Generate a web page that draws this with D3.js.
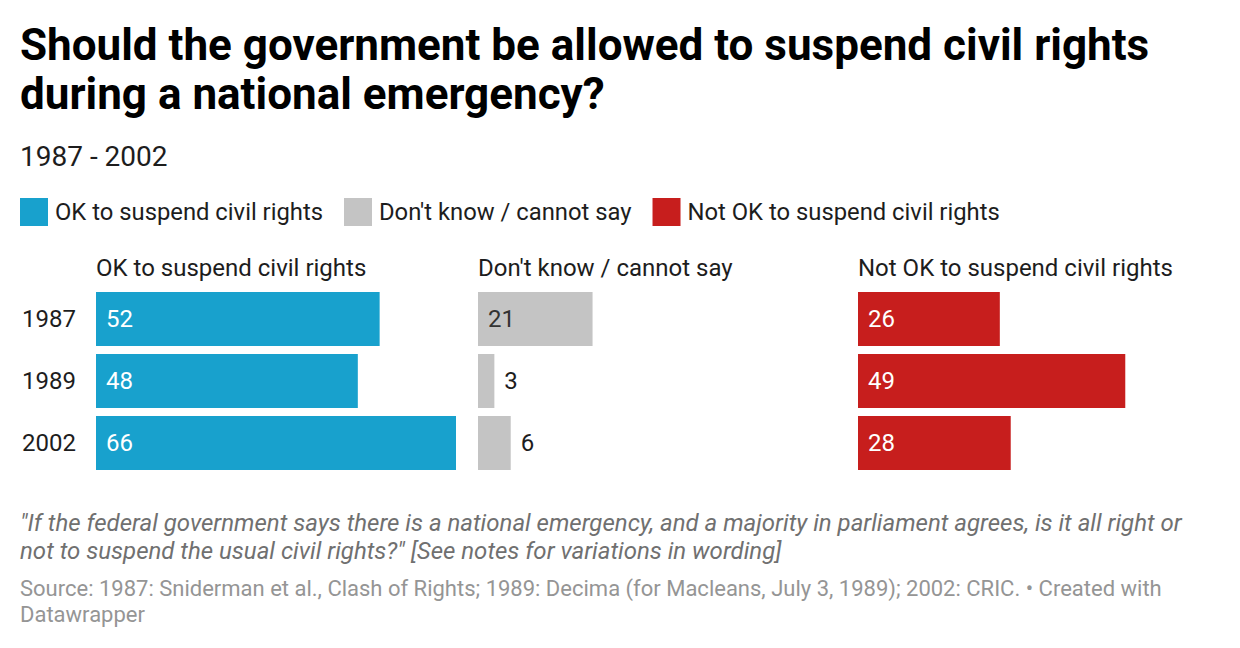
<!DOCTYPE html>
<html>
<head>
<meta charset="utf-8">
<script src="https://cdn.jsdelivr.net/npm/d3@7"></script>
<style>
  html, body { margin: 0; padding: 0; background: #fff; }
  svg { display: block; font-family: Roboto, "Noto Sans", sans-serif; }
</style>
</head>
<body>
<svg id="chart" width="1240" height="648"></svg>
<script>
// ---- data ----
const titleLines = ["Should the government be allowed to suspend civil rights", "during a national emergency?"];
const subtitle = "1987 - 2002";
const years = ["1987", "1989", "2002"];
const seriesNames = ["OK to suspend civil rights", "Don't know / cannot say", "Not OK to suspend civil rights"];
const okValues = [52, 48, 66];
const dontKnowValues = [21, 3, 6];
const notOkValues = [26, 49, 28];
const seriesColors = ["#18a1cd", "#c4c4c4", "#c71e1d"];
const labelInsideColors = ["#ffffff", "#333333", "#ffffff"];
const noteLines = ["\"If the federal government says there is a national emergency, and a majority in parliament agrees, is it all right or", "not to suspend the usual civil rights?\" [See notes for variations in wording]"];
const sourceLines = ["Source: 1987: Sniderman et al., Clash of Rights; 1989: Decima (for Macleans, July 3, 1989); 2002: CRIC. \u2022 Created with", "Datawrapper"];

const seriesValues = [okValues, dontKnowValues, notOkValues];

const svg = d3.select("#chart");

// title
svg.append("g").selectAll("text").data(titleLines).join("text")
  .attr("x", 20).attr("y", (d, i) => 60 + i * 49)
  .attr("font-size", 44).attr("font-weight", 700).attr("fill", "#000")
  .text(d => d);

svg.append("text").attr("x", 20).attr("y", 166)
  .attr("font-size", 28).attr("fill", "#1d1d1d").text(subtitle);

// legend
const legend = svg.append("g");
let lx = 20;
seriesNames.forEach((name, i) => {
  legend.append("rect").attr("x", lx).attr("y", 198).attr("width", 28).attr("height", 28).attr("fill", seriesColors[i]);
  const t = legend.append("text").attr("x", lx + 35).attr("y", 220)
    .attr("font-size", 23.8).attr("fill", "#1d1d1d").text(name);
  lx = lx + 35 + t.node().getComputedTextLength() + 21;
});

// panels
const panelStarts = [96, 478, 858];
const x = d3.scaleLinear().domain([0, 66]).range([0, 360]);
const y = d3.scaleBand().domain(years).range([292, 470]).paddingInner(8 / 62).paddingOuter(0);

// year labels
svg.append("g").selectAll("text").data(years).join("text")
  .attr("x", 22).attr("y", d => y(d) + y.bandwidth() / 2 + 8)
  .attr("font-size", 24).attr("fill", "#1d1d1d").text(d => d);

seriesNames.forEach((name, si) => {
  const g = svg.append("g").attr("transform", `translate(${panelStarts[si]},0)`);
  g.append("text").attr("x", 0).attr("y", 276).attr("font-size", 24).attr("fill", "#1d1d1d").text(name);
  const rows = years.map((yr, i) => ({ yr, v: seriesValues[si][i] }));
  g.selectAll("rect").data(rows).join("rect")
    .attr("x", x(0)).attr("y", d => y(d.yr))
    .attr("width", d => x(d.v) - x(0)).attr("height", y.bandwidth())
    .attr("fill", seriesColors[si]);
  g.selectAll("text.val").data(rows).join("text").attr("class", "val")
    .attr("font-size", 24)
    .attr("y", d => y(d.yr) + y.bandwidth() / 2 + 8)
    .text(d => d.v)
    .each(function (d) {
      const w = this.getComputedTextLength();
      const bw = x(d.v) - x(0);
      const inside = bw > w + 20;
      d3.select(this).attr("x", inside ? 10 : bw + 10)
        .attr("fill", inside ? labelInsideColors[si] : "#1d1d1d");
    });
});

// notes
svg.append("g").selectAll("text").data(noteLines).join("text")
  .attr("x", 20).attr("y", (d, i) => 531 + i * 28)
  .attr("font-size", 24).attr("font-style", "italic").attr("fill", "#707070")
  .text(d => d);

svg.append("g").selectAll("text").data(sourceLines).join("text")
  .attr("x", 20).attr("y", (d, i) => 596 + i * 26)
  .attr("font-size", 22).attr("fill", "#959595")
  .text(d => d);
</script>
</body>
</html>
